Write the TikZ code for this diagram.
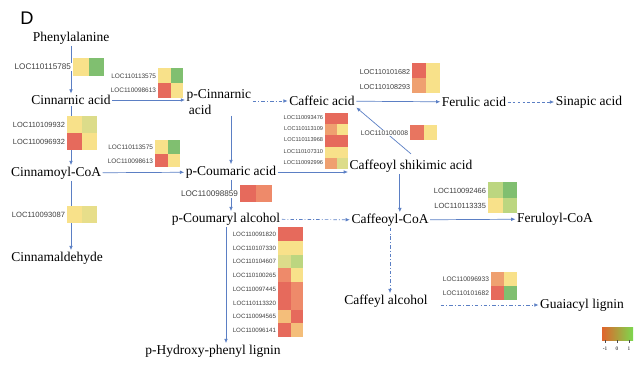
\documentclass[tikz,border=0pt]{standalone}
\usepackage{fontspec}
\setmainfont{Liberation Serif}
\newfontfamily\locfont{Liberation Sans}
\usepackage{tikz}
\usetikzlibrary{arrows.meta,calc}

\definecolor{pathblue}{HTML}{5B7FC4}
\definecolor{hmred}{HTML}{E66A5C}
\definecolor{hmsalmon}{HTML}{EE8A6A}
\definecolor{hmorange}{HTML}{EFA070}
\definecolor{hmlorange}{HTML}{F4BE7A}
\definecolor{hmyellow}{HTML}{F8E18A}
\definecolor{hmkhaki}{HTML}{DCDC8A}
\definecolor{hmlgreen}{HTML}{BCD680}
\definecolor{hmgreen}{HTML}{80BF70}
\definecolor{barlow}{HTML}{E0642C}
\definecolor{barmid}{HTML}{F4E84A}
\definecolor{barhigh}{HTML}{7CD84E}

\tikzstyle{compound} = [font=\fontsize{9.6}{11}\selectfont, inner sep=1pt]
\tikzstyle{arr} = [draw=pathblue, line width=0.5pt, -{Latex[length=3pt,width=2.6pt]}]
\tikzstyle{dashdot} = [dash pattern=on 2.5pt off 1.5pt on 0.6pt off 1.5pt]
\tikzstyle{shortdash} = [dash pattern=on 2pt off 1.5pt]
\tikzset{loc/.style={anchor=east, fill=white, inner sep=0.5pt, text=black!75, font=\locfont\fontsize{#1}{#1}\selectfont}, loc/.default=5}

% one heatmap row: x, y, cell width, cell height, left colour, right colour
\newcommand{\hmrow}[6]{\fill[#5] (#1,#2) rectangle ++(#3,#4); \fill[#6] ({#1+#3},#2) rectangle ++(#3,#4);}

\begin{document}
\begin{tikzpicture}[x=0.025cm, y=-0.025cm]
	\useasboundingbox (0,0) rectangle (640,369);
	\node[font=\locfont\fontsize{13}{13}\selectfont] (panel) at (27,18) {D};
	
	\node[compound] (phe) at (71,38) {Phenylalanine};
	\node[compound] (cin) at (71,100) {Cinnarnic acid};
	\node[compound, align=left, anchor=west] (pcin) at (185,102) {p-Cinnarnic\\ \,acid};
	\node[compound] (caf) at (322,101) {Caffeic acid};
	\node[compound] (fer) at (474,102) {Ferulic acid};
	\node[compound] (sin) at (589,102) {Sinapic acid};
	\node[compound] (cma) at (56,173) {Cinnamoyl-CoA};
	\node[compound] (pcou) at (231,172) {p-Coumaric acid};
	\node[compound] (csa) at (411,166) {Caffeoyl shikimic acid};
	\node[compound] (cald) at (57,258) {Cinnamaldehyde};
	\node[compound] (pcal) at (226,219) {p-Coumaryl alcohol};
	\node[compound] (ccoa) at (390,220) {Caffeoyl-CoA};
	\node[compound] (fcoa) at (555,219) {Feruloyl-CoA};
	\node[compound] (cal) at (386,301) {Caffeyl alcohol};
	\node[compound] (gua) at (582,305) {Guaiacyl lignin};
	\node[compound] (php) at (213,351) {p-Hydroxy-phenyl lignin};
	
	%arrow
	\draw[arr] (phe) -- (cin);
	\draw[arr] (cin.east) -- (pcin.west |- cin.east);
	\draw[arr, dashdot] (pcin.east |- caf.west) -- (caf.west);
	\draw[arr] (caf) -- (fer);
	\draw[arr, shortdash] (fer) -- (sin);
	\draw[arr] (cin.south) -- (cin.south |- cma.north);
	\draw[arr] (pcin.south -| pcou) -- (pcou);
	\draw[arr] (cma) -- (pcou);
	\draw[arr] (pcou.east) -- (pcou.east -| csa.west);
	\draw[arr] ([yshift=3pt]csa.north) -- (caf.south east);
	\draw[arr] (cma.south -| cin.south) -- (cin.south |- cald.north);
	\draw[arr] (pcou.south) -- (pcou.south |- pcal.north);
	\draw[arr] ([xshift=7pt]ccoa.north |- csa.south) -- ([xshift=7pt]ccoa.north);
	\draw[arr, dashdot] (pcal) -- (ccoa);
	\draw[arr] (ccoa) -- (fcoa);
	\draw[arr, dashdot] (ccoa.south) -- (ccoa.south |- cal.north);
	\draw[arr, dashdot, shorten <=8pt] (cal.east |- gua.west) -- (gua.west);
	\draw[arr] (pcal.south) -- (pcal.south |- php.north);
	
	%heatmaps
	\hmrow{73}{58}{15.5}{18}{hmyellow}{hmgreen}
	\node[loc=5.8] (g1) at (72,67) {LOC110115785};
	
	\hmrow{158}{68}{12.5}{15}{hmyellow}{hmgreen}
	\hmrow{158}{83}{12.5}{15}{hmred}{hmyellow}
	\node[loc=4.6] (g2) at (157,76) {LOC110113575};
	\node[loc=4.6] (g3) at (157,90) {LOC110098613};
	
	\hmrow{67}{116}{15}{17}{hmyellow}{hmkhaki}
	\hmrow{67}{133}{15}{17}{hmred}{hmyellow}
	\node[loc=5.3] (g4) at (66,125) {LOC110109932};
	\node[loc=5.3] (g5) at (66,142) {LOC110096932};
	
	\hmrow{155}{140}{12.5}{13.5}{hmyellow}{hmgreen}
	\hmrow{155}{153.5}{12.5}{13.5}{hmred}{hmyellow}
	\node[loc=4.6] (g6) at (154,147) {LOC110113575};
	\node[loc=4.6] (g7) at (154,161) {LOC110098613};
	
	\hmrow{67}{206}{15}{17}{hmyellow}{hmkhaki!60!hmyellow}
	\node[loc=5.4] (g8) at (66,215) {LOC110093087};
	
	\hmrow{412}{63}{14}{15}{hmred}{hmyellow}
	\hmrow{412}{78}{14}{15}{hmorange}{hmyellow}
	\node[loc=5.1] (g9) at (411,72) {LOC110101682};
	\node[loc=5.1] (g10) at (411,87) {LOC110108293};
	
	\hmrow{325}{113}{11.5}{11.2}{hmred}{hmred}
	\hmrow{325}{124.2}{11.5}{11.2}{hmorange}{hmyellow}
	\hmrow{325}{135.4}{11.5}{11.2}{hmred}{hmred}
	\hmrow{325}{146.6}{11.5}{11.2}{hmyellow}{hmyellow}
	\hmrow{325}{157.8}{11.5}{11.2}{hmorange}{hmkhaki}
	\node[loc=4] (g11) at (324,118) {LOC110093476};
	\node[loc=4] (g12) at (324,129) {LOC110113109};
	\node[loc=4] (g13) at (324,140) {LOC110113968};
	\node[loc=4] (g14) at (324,152) {LOC110107310};
	\node[loc=4] (g15) at (324,163) {LOC110092996};
	
	\node[loc=4.8] (g16) at (409,133) {LOC110100008};
	\hmrow{410}{125}{13.5}{15}{hmred!80!hmorange}{hmyellow}
	
	\hmrow{240}{185}{16}{17}{hmred}{hmsalmon}
	\node[loc=5.8] (g17) at (239,194) {LOC110098859};
	
	\hmrow{488}{182}{14.5}{15.5}{hmlgreen}{hmgreen}
	\hmrow{488}{197.5}{14.5}{15.5}{hmyellow}{hmlgreen}
	\node[loc=5.3] (g18) at (487,191) {LOC110092466};
	\node[loc=5.3] (g19) at (487,206) {LOC110113335};
	
	\hmrow{278}{227}{12.5}{13.75}{hmred}{hmred}
	\hmrow{278}{240.75}{12.5}{13.75}{hmyellow}{hmyellow}
	\hmrow{278}{254.5}{12.5}{13.75}{hmkhaki}{hmlgreen}
	\hmrow{278}{268.25}{12.5}{13.75}{hmsalmon}{hmyellow}
	\hmrow{278}{282}{12.5}{13.75}{hmred}{hmsalmon}
	\hmrow{278}{295.75}{12.5}{13.75}{hmred}{hmsalmon}
	\hmrow{278}{309.5}{12.5}{13.75}{hmlorange}{hmred}
	\hmrow{278}{323.25}{12.5}{13.75}{hmred}{hmlorange}
	\node[loc=4.4] (g20) at (277,234) {LOC110091820};
	\node[loc=4.4] (g21) at (277,248) {LOC110107330};
	\node[loc=4.4] (g22) at (277,261) {LOC110104607};
	\node[loc=4.4] (g23) at (277,275) {LOC110100265};
	\node[loc=4.4] (g24) at (277,289) {LOC110097445};
	\node[loc=4.4] (g25) at (277,303) {LOC110113320};
	\node[loc=4.4] (g26) at (277,316) {LOC110094565};
	\node[loc=4.4] (g27) at (277,330) {LOC110096141};
	
	\hmrow{491}{272}{13}{14}{hmorange}{hmyellow}
	\hmrow{491}{286}{13}{14}{hmred}{hmgreen}
	\node[loc=4.7] (g28) at (490,279) {LOC110096933};
	\node[loc=4.7] (g29) at (490,293) {LOC110101682};
	
	%legend
	\shade[left color=barlow, middle color=barmid, right color=barhigh] (602,327) rectangle (633,340);
	\draw[black!70, line width=0.3pt] (605,340) -- ++(0,3) (617,340) -- ++(0,3) (629,340) -- ++(0,3);
	\node[font=\fontsize{3.8}{3.8}\selectfont, inner sep=0pt] (lm) at (605,349) {-1};
	\node[font=\fontsize{3.8}{3.8}\selectfont, inner sep=0pt] (lz) at (617,349) {0};
	\node[font=\fontsize{3.8}{3.8}\selectfont, inner sep=0pt] (lp) at (629,349) {1};
\end{tikzpicture}
\end{document}
